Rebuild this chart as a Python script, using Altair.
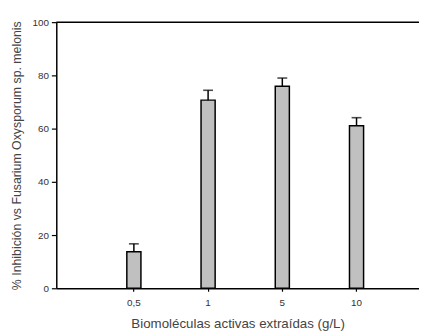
import altair as alt
import pandas as pd

categories = ["0,5", "1", "5", "10"]
inhibition = [13.7, 70.7, 75.9, 61.1]
error = [3.0, 3.7, 3.1, 3.0]
y_ticks = [0, 20, 40, 60, 80, 100]

df = pd.DataFrame({"conc": categories, "inh": inhibition, "err": error})
df["upper"] = df["inh"] + df["err"]

FONT = "Liberation Sans"

x_enc = alt.X(
    "conc:N",
    sort=categories,
    title="Biomoléculas activas extraídas (g/L)",
    scale=alt.Scale(paddingInner=0.81, paddingOuter=0.8485, align=0.56),
    axis=alt.Axis(labelAngle=0, tickSize=3, labelPadding=6, titlePadding=10,
                  titleFontSize=13.5),
)
y_scale = alt.Scale(domain=[0, 100], nice=False)
y_axis = alt.Axis(values=y_ticks, tickSize=5, labelPadding=3, titlePadding=9,
                  grid=False, titleFontSize=12.5)

base = alt.Chart(df)

bars = base.mark_bar(fill="#c0c0c0", stroke="black", strokeWidth=1.5).encode(
    x=x_enc,
    y=alt.Y("inh:Q", scale=y_scale, axis=y_axis,
            title="% Inhibición vs Fusarium Oxysporum sp. melonis"),
)
err_line = base.mark_rule(color="black", strokeWidth=1.5).encode(
    x=alt.X("conc:N", sort=categories),
    y="inh:Q",
    y2="upper:Q",
)
err_cap = base.mark_tick(color="black", size=10, thickness=1.6).encode(
    x=alt.X("conc:N", sort=categories),
    y="upper:Q",
)
top_line = alt.Chart(pd.DataFrame({"top": [100]})).mark_rule(
    color="black", strokeWidth=1.5
).encode(y="top:Q")

chart = (
    alt.layer(bars, err_line, err_cap, top_line)
    .properties(
        width=368,
        height=270,
        padding={"left": 49, "top": 12, "right": 0, "bottom": 42},
        autosize="none",
    )
    .configure_view(stroke=None)
    .configure_axis(
        domainColor="black",
        domainWidth=1.5,
        tickColor="black",
        tickWidth=1.2,
        labelFont=FONT,
        labelFontSize=10,
        labelColor="#333333",
        titleFont=FONT,
        titleFontWeight="normal",
        titleColor="#444444",
        grid=False,
    )
)

chart.save("out.html", embed_options={"renderer": "svg", "actions": False})
